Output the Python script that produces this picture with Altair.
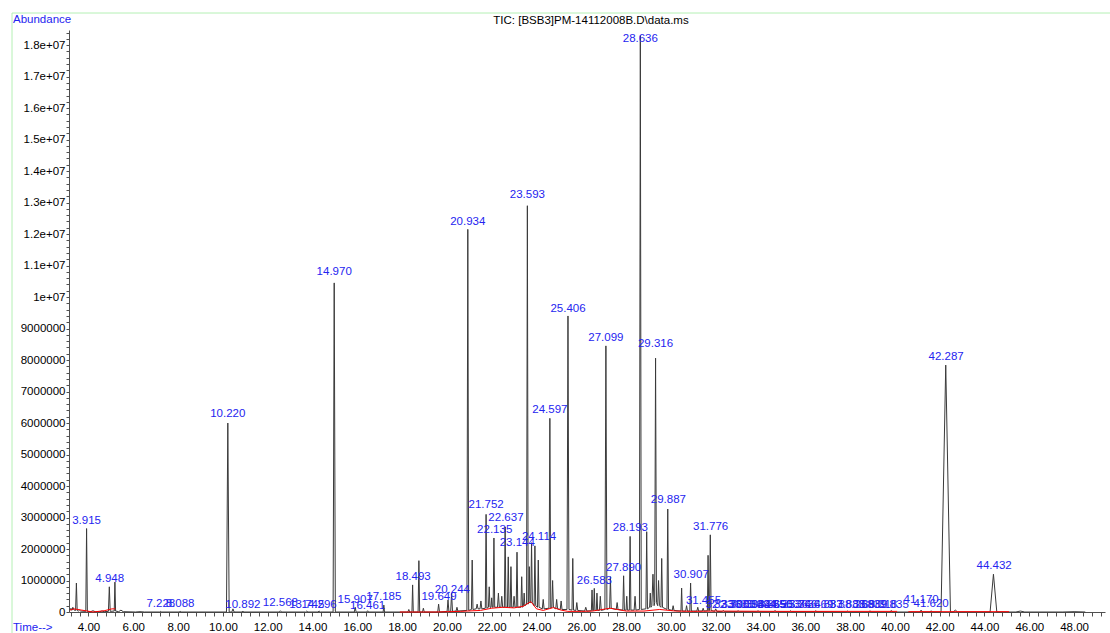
import altair as alt
import pandas as pd

TITLE = "TIC: [BSB3]PM-14112008B.D\\data.ms"

# ---- black TIC trace: peaks (time in min, apex abundance,
#      half base width in min, local baseline under the peak)
peak_time = [3.22, 3.30, 3.46, 3.60, 3.915, 4.20, 4.60, 4.93, 5.18, 5.45, 6.30, 7.228, 8.088,
             10.22, 10.45, 10.892, 12.568, 13.745, 14.296, 14.97, 15.907, 16.461, 17.185,
             18.30, 18.47, 18.75, 18.95, 19.63, 20.05, 20.21, 20.45, 20.934, 21.13, 21.35,
             21.52, 21.75, 21.89, 22.00, 22.10, 22.30, 22.45, 22.60, 22.74, 22.86, 23.00,
             23.13, 23.34, 23.45, 23.593, 23.68, 23.78, 23.93, 24.08, 24.30, 24.597, 24.72,
             24.90, 25.10, 25.406, 25.62, 25.80, 26.20, 26.48, 26.58, 26.70, 26.85, 27.099,
             27.30, 27.60, 27.89, 28.03, 28.18, 28.40, 28.636, 28.92, 29.08, 29.20, 29.316,
             29.45, 29.59, 29.86, 30.10, 30.48, 30.70, 30.88, 31.20, 31.44, 31.66, 31.76,
             32.00, 32.34, 33.00, 33.89, 34.65, 35.34, 36.47, 37.88, 38.89, 39.84, 41.17,
             41.62, 42.27, 42.70, 44.40, 45.60, 48.00]
peak_height = [120000, 150000, 920000, 60000, 2650000, 40000, 30000, 800000, 950000, 60000,
               10000, 20000, 25000, 6000000, 100000, 30000, 40000, 30000, 30000, 10450000,
               150000, 40000, 220000, 80000, 860000, 1630000, 120000, 250000, 380000, 600000,
               150000, 12150000, 1650000, 250000, 350000, 3100000, 800000, 450000, 2350000,
               600000, 500000, 2700000, 1750000, 1440000, 500000, 1900000, 1120000, 600000,
               12900000, 1440000, 2200000, 2100000, 1650000, 400000, 6150000, 1000000,
               400000, 350000, 9400000, 1700000, 300000, 150000, 700000, 750000, 600000,
               500000, 8450000, 1120000, 300000, 1150000, 500000, 2400000, 500000, 18300000,
               2550000, 600000, 1200000, 8060000, 1000000, 1700000, 3270000, 200000, 760000,
               200000, 920000, 150000, 120000, 1800000, 2450000, 100000, 50000, 40000, 40000,
               50000, 40000, 40000, 30000, 40000, 50000, 60000, 40000, 7840000, 60000,
               1200000, 30000, 10000]
peak_halfwidth = [0.05, 0.06, 0.035, 0.05, 0.035, 0.1, 0.1, 0.04, 0.03, 0.1, 0.2, 0.04, 0.04,
                  0.06, 0.05, 0.04, 0.05, 0.05, 0.05, 0.05, 0.04, 0.04, 0.03, 0.04, 0.03, 0.035,
                  0.04, 0.04, 0.04, 0.04, 0.04, 0.04, 0.035, 0.04, 0.04, 0.035, 0.035, 0.03,
                  0.035, 0.04, 0.04, 0.035, 0.035, 0.035, 0.04, 0.035, 0.035, 0.03, 0.035, 0.03,
                  0.035, 0.035, 0.035, 0.04, 0.04, 0.035, 0.04, 0.04, 0.045, 0.035, 0.04, 0.05,
                  0.03, 0.03, 0.03, 0.04, 0.045, 0.035, 0.04, 0.035, 0.03, 0.035, 0.04, 0.04,
                  0.035, 0.03, 0.05, 0.04, 0.04, 0.035, 0.035, 0.04, 0.03, 0.04, 0.035, 0.04,
                  0.04, 0.03, 0.035, 0.05, 0.05, 0.05, 0.05, 0.05, 0.05, 0.05, 0.05, 0.05, 0.05,
                  0.05, 0.05, 0.21, 0.1, 0.15, 0.2, 0.5]
peak_base = [60000, 60000, 50000, 30000, 20000, 10000, 10000, 20000, 30000, 10000, 0, 0, 0,
             0, 0, 0, 0, 0, 0, 0, 0, 0, 0, 0, 0, 0, 0, 0, 20000, 20000, 30000, 50000, 80000,
             100000, 100000, 120000, 150000, 150000, 150000, 150000, 150000, 150000, 150000,
             150000, 150000, 150000, 150000, 200000, 250000, 300000, 300000, 200000, 150000,
             100000, 120000, 150000, 100000, 80000, 80000, 60000, 50000, 30000, 40000, 50000,
             50000, 50000, 80000, 120000, 80000, 60000, 60000, 60000, 60000, 80000, 100000,
             150000, 200000, 300000, 200000, 150000, 80000, 50000, 30000, 30000, 30000, 30000,
             30000, 40000, 50000, 20000, 10000, 10000, 10000, 10000, 10000, 10000, 0, 0, 0, 0,
             0, 0, 0, 0, 0, 0]

# ---- red integration baseline (segment, time, abundance)
red_segment = [1, 1, 1, 1, 1, 1, 1,
               2, 2, 2, 2, 2, 2, 2, 2, 2, 2, 2, 2, 2, 2, 2, 2, 2, 2, 2, 2, 2, 2, 2, 2, 2,
               3, 3]
red_time = [3.17, 3.35, 3.70, 4.20, 4.70, 5.05, 5.20,
            17.90, 19.50, 20.60, 21.50, 22.00, 22.50, 23.00, 23.40, 23.75, 24.00, 24.30,
            24.75, 25.10, 25.40, 26.00, 26.50, 27.28, 28.00, 28.80, 29.50, 30.20, 31.00,
            32.00, 35.00, 40.10,
            40.60, 45.10]
red_level = [60000, 100000, 60000, 0, 40000, 100000, 100000,
             0, 0, 20000, 50000, 120000, 150000, 130000, 180000, 330000, 100000, 50000,
             140000, 60000, 20000, 20000, 30000, 120000, 30000, 30000, 80000, 30000, 20000,
             30000, 20000, 20000,
             10000, 10000]

# ---- peak annotations (retention time, abundance at the label's bottom)
label_time = [3.915, 4.948, 7.228, 8.088, 10.220, 10.892, 12.568, 13.745, 14.296, 14.970,
              15.907, 16.461, 17.185, 18.493, 19.649, 20.244, 20.934, 21.752, 22.135, 22.637,
              23.144, 23.593, 24.114, 24.597, 25.406, 26.583, 27.099, 27.890, 28.193, 28.636,
              29.316, 29.887, 30.907, 31.455, 31.776, 32.336, 32.708, 33.003, 33.398, 33.894,
              34.365, 34.650, 34.953, 35.336, 35.746, 36.469, 36.883, 37.883, 38.268, 38.889,
              39.318, 39.835, 41.170, 41.620, 42.287, 44.432]
label_height = [2700000, 860000, 60000, 60000, 6100000, 30000, 100000, 30000, 30000, 10600000,
                190000, 0, 290000, 920000, 290000, 510000, 12190000, 3200000, 2410000, 2790000,
                2000000, 13050000, 2190000, 6220000, 9430000, 790000, 8510000, 1210000,
                2480000, 18000000, 8320000, 3370000, 980000, 160000, 2510000, 40000, 40000,
                40000, 40000, 40000, 40000, 40000, 40000, 40000, 40000, 40000, 40000, 40000,
                40000, 40000, 40000, 40000, 190000, 60000, 7900000, 1270000]

x_ticks = [round(3.2 + 0.4 * i, 1) for i in range(116)]
y_ticks = [i * 200000 for i in range(93)]

FONT = "Liberation Sans"
BLUE = "#2424f0"
W, H = 1036, 582

rows = []
for t, h, w, b in zip(peak_time, peak_height, peak_halfwidth, peak_base):
    rows += [(t - w, b), (t, h), (t + w, b)]
trace = pd.DataFrame(rows, columns=["time", "abundance"]).sort_values("time")
red = pd.DataFrame({"seg": red_segment, "time": red_time, "abundance": red_level})
labels = pd.DataFrame({"time": label_time, "abundance": label_height,
                       "text": [f"{t:.3f}" for t in label_time]})

xscale = alt.Scale(domain=[3.13, 49.38], nice=False, zero=False)
yscale = alt.Scale(domain=[0, 18480000], nice=False)

xaxis = alt.Axis(values=x_ticks, tickCount=len(x_ticks), title=None, grid=False, tickSize=4,
                 labelPadding=5,
                 labelExpr="datum.value % 2 == 0 ? format(datum.value, '.2f') : ''",
                 labelFlush=False, labelOverlap=False, labelFont=FONT, labelFontSize=11.5,
                 labelColor="#000000", domainColor="#505050", tickColor="#505050")
yaxis = alt.Axis(values=y_ticks, tickCount=len(y_ticks), title=None, grid=False, tickSize=3,
                 labelPadding=1,
                 labelExpr="datum.value % 1000000 == 0 ? (datum.value < 10000000 ? "
                           "format(datum.value, 'd') : (datum.value / 10000000) + 'e+07') : ''",
                 labelFlush=False, labelOverlap=False, labelFont=FONT, labelFontSize=11.5,
                 labelColor="#000000", domainColor="#505050", tickColor="#505050")

line = alt.Chart(trace).mark_line(color="#3a3a3a", strokeWidth=1).encode(
    x=alt.X("time:Q", scale=xscale, axis=xaxis),
    y=alt.Y("abundance:Q", scale=yscale, axis=yaxis),
)
base = alt.Chart(red).mark_line(color="#ff0000", strokeWidth=1).encode(
    x=alt.X("time:Q", scale=xscale),
    y=alt.Y("abundance:Q", scale=yscale),
    detail="seg:N",
)
text = alt.Chart(labels).mark_text(font=FONT, fontSize=11.5, color=BLUE,
                                   baseline="bottom", align="center", dy=-1).encode(
    x=alt.X("time:Q", scale=xscale),
    y=alt.Y("abundance:Q", scale=yscale),
    text="text:N",
)

one = pd.DataFrame({"k": [0]})
title = alt.Chart(one).mark_text(text=TITLE, font=FONT, fontSize=11.5, color="#000000",
                                 align="center", baseline="middle").encode(
    x=alt.value(522), y=alt.value(-9))
abund = alt.Chart(one).mark_text(text="Abundance", font=FONT, fontSize=11.5, color=BLUE,
                                 align="left", baseline="middle").encode(
    x=alt.value(-56), y=alt.value(-10))
timel = alt.Chart(one).mark_text(text="Time-->", font=FONT, fontSize=11.5, color=BLUE,
                                 align="left", baseline="middle").encode(
    x=alt.value(-56), y=alt.value(598))
frame_top = alt.Chart(one).mark_rule(color="#b4f0b4", strokeWidth=1).encode(
    x=alt.value(-57), x2=alt.value(1041), y=alt.value(-17))
frame_left = alt.Chart(one).mark_rule(color="#b4f0b4", strokeWidth=1).encode(
    x=alt.value(-57), y=alt.value(-17), y2=alt.value(603))

chart = alt.layer(frame_top, frame_left, line, base, text, title, abund, timel).properties(
    width=W, height=H,
    padding={"left": 69, "top": 30, "right": 5, "bottom": 21},
    autosize=alt.AutoSizeParams(type="none"),
    background="#ffffff",
).configure_view(stroke=None)

chart.save("out.html", embed_options={"renderer": "svg", "actions": False})
